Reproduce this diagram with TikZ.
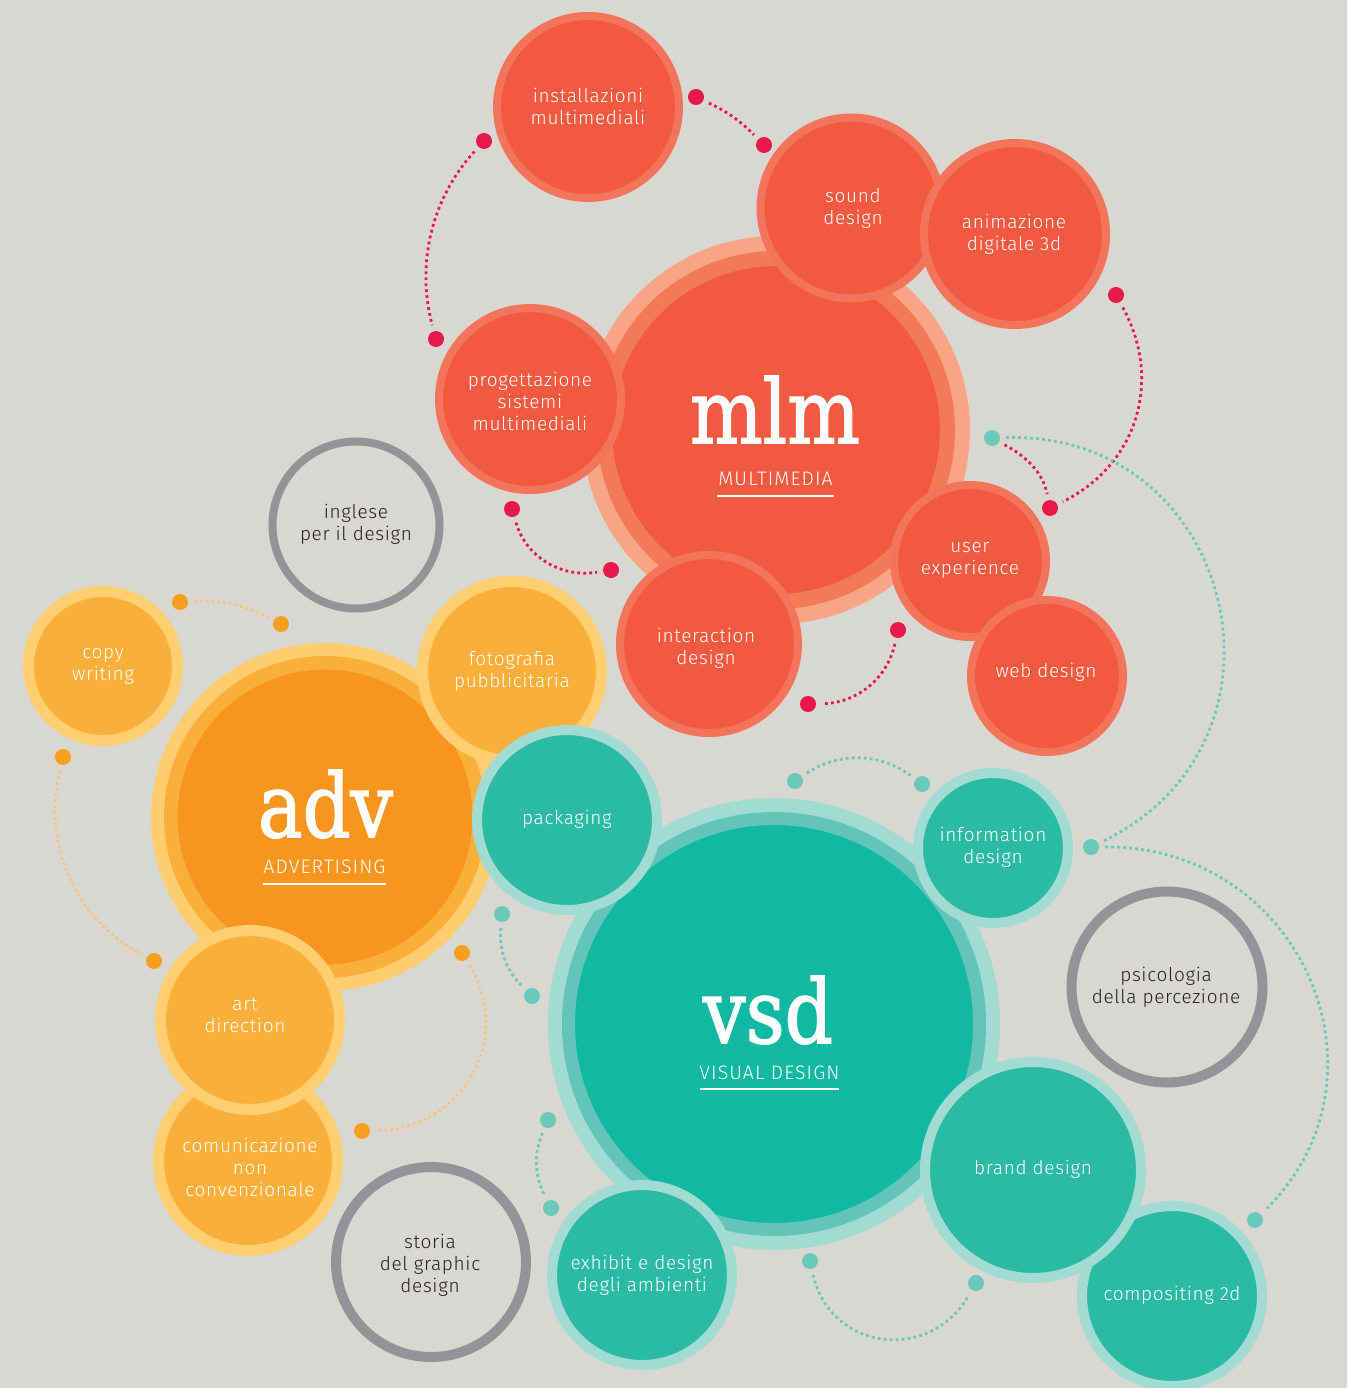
\documentclass[tikz,border=0pt]{standalone}
\usepackage{fontspec}
\setmainfont{Fira Sans Light}
\newfontfamily\lblfont{Fira Sans Light}[LetterSpace=3.5]
\newfontfamily\subfont{Fira Sans Light}[LetterSpace=5.5]
\newfontfamily\slab{DejaVu Serif}[FakeBold=1.8]
\definecolor{bg}{HTML}{D8D7D2}
\definecolor{mlmA}{HTML}{F8A586}
\definecolor{mlmB}{HTML}{F37A58}
\definecolor{redC}{HTML}{F15A40}
\definecolor{redR}{HTML}{F3745A}
\definecolor{redDot}{HTML}{E9184B}
\definecolor{advA}{HTML}{FECD6E}
\definecolor{advB}{HTML}{FAAF3A}
\definecolor{advC}{HTML}{F7951F}
\definecolor{orC}{HTML}{FAAF3A}
\definecolor{orR}{HTML}{FECF70}
\definecolor{orDot}{HTML}{F8A01E}
\definecolor{orLine}{HTML}{FBC27C}
\definecolor{vsdA}{HTML}{A2DAD4}
\definecolor{vsdB}{HTML}{62C5B7}
\definecolor{vsdC}{HTML}{12B9A2}
\definecolor{teC}{HTML}{2BBAA4}
\definecolor{teR}{HTML}{A2DAD4}
\definecolor{teDot}{HTML}{6BC9BB}
\definecolor{grayR}{HTML}{939498}
\definecolor{darktext}{HTML}{231F20}
\tikzset{
  bigmlm/.style={circle, inner sep=0pt, minimum size=343pt, fill=redC, draw=mlmB, line width=15pt, preaction={draw=mlmA, line width=45pt}},
  bigadv/.style={circle, inner sep=0pt, minimum size=308.5pt, fill=advC, draw=advB, line width=13.5pt, preaction={draw=advA, line width=39.5pt}},
  bigvsd/.style={circle, inner sep=0pt, minimum size=411pt, fill=vsdC, draw=vsdB, line width=13pt, preaction={draw=vsdA, line width=41pt}},
  smallred/.style={circle, inner sep=0pt, fill=redC, draw=redR, line width=8pt},
  smallorange/.style={circle, inner sep=0pt, fill=orC, draw=orR, line width=11pt},
  smallteal/.style={circle, inner sep=0pt, fill=teC, draw=teR, line width=10pt},
  grayring/.style={circle, inner sep=0pt, draw=grayR},
  lbl/.style={text=white, align=center, inner sep=0pt, font=\lblfont\fontsize{19}{22}\selectfont},
  dlbl/.style={lbl, text=darktext},
  bigtxt/.style={text=white, inner sep=0pt, anchor=base, font=\slab\fontsize{80}{80}\selectfont},
  subtxt/.style={text=white, inner sep=0pt, anchor=base, font=\subfont\fontsize{19.5}{22}\selectfont},
  uline/.style={white, line width=2pt},
  rdot/.style={circle, inner sep=0pt, minimum size=16pt, fill=redDot},
  tdot/.style={circle, inner sep=0pt, minimum size=16pt, fill=teDot},
  odot/.style={circle, inner sep=0pt, minimum size=16pt, fill=orDot},
  rline/.style={draw=redDot, line width=2.8pt, dash pattern=on 2.8pt off 3.2pt, shorten <=6pt, shorten >=6pt},
  tline/.style={draw=teDot, line width=2.8pt, dash pattern=on 2.8pt off 3.2pt, shorten <=6pt, shorten >=6pt},
  oline/.style={draw=orLine, line width=2.6pt, dash pattern=on 2.6pt off 3.2pt, shorten <=6pt, shorten >=6pt},
}
\begin{document}
\begin{tikzpicture}[x=1pt,y=-1pt]
\useasboundingbox (0,0) rectangle (1347,1388);
\fill[bg] (0,0) rectangle (1347,1388);

% ---------- dots ----------
\node[rdot] (r1) at (696,97) {};
\node[rdot] (r2) at (764,145) {};
\node[rdot] (r3) at (484,141) {};
\node[rdot] (r4) at (436,339) {};
\node[rdot] (r5) at (1116,295) {};
\node[rdot] (r6) at (1050,508) {};
\node[rdot] (r7) at (512,509) {};
\node[rdot] (r8) at (611,570) {};
\node[rdot] (r9) at (898,630) {};
\node[rdot] (r10) at (808,704) {};
\node[tdot] (t1) at (992,438) {};
\node[tdot] (t2) at (1091,847) {};
\node[tdot] (t3) at (1255,1220) {};
\node[tdot] (t4) at (795,781) {};
\node[tdot] (t5) at (922,784) {};
\node[tdot] (t6) at (502,914) {};
\node[tdot] (t7) at (532,996) {};
\node[tdot] (t8) at (548,1120) {};
\node[tdot] (t9) at (551,1208) {};
\node[tdot] (t10) at (810,1261) {};
\node[tdot] (t11) at (976,1283) {};
\node[odot] (o1) at (180,602) {};
\node[odot] (o2) at (281,624) {};
\node[odot] (o3) at (63,757) {};
\node[odot] (o4) at (154,961) {};
\node[odot] (o5) at (462,953) {};
\node[odot] (o6) at (362,1131) {};

% ---------- dotted connectors ----------
\draw[rline] (r1) to[bend left=10] (r2);
\draw[rline] (r3) .. controls (431,199) and (416,265) .. (r4);
\draw[rline] (r5) .. controls (1163,381) and (1137,465) .. (r6);
\draw[rline] (t1) .. controls (1029,458) and (1043,474) .. (r6);
\draw[rline] (r7) .. controls (526,557) and (561,578) .. (r8);
\draw[rline] (r9) .. controls (887,679) and (857,703) .. (r10);
\draw[tline] (t1) .. controls (1234,431) and (1310,740) .. (t2);
\draw[tline] (t2) .. controls (1301,846) and (1401,1077) .. (t3);
\draw[tline] (t4) to[bend left=35] (t5);
\draw[tline] (t6) to[bend right=25] (t7);
\draw[tline] (t8) to[bend right=25] (t9);
\draw[tline] (t10) .. controls (830,1350) and (929,1364) .. (t11);
\draw[oline] (o1) to[bend left=15] (o2);
\draw[oline] (o3) .. controls (42,846) and (76,919) .. (o4);
\draw[oline] (o5) .. controls (514,1039) and (463,1129) .. (o6);

% ---------- big circles ----------
\node[bigmlm] (mlm) at (776,430) {};
\node[bigadv] (adv) at (325,817) {};
\node[bigvsd] (vsd) at (774,1024) {};

% ---------- red small circles ----------
\node[smallred, minimum size=182pt] (inst) at (588,107) {};
\node[smallred, minimum size=182pt] (prog) at (530,399) {};
\node[smallred, minimum size=181pt] (sound) at (851,208) {};
\node[smallred, minimum size=182pt] (anim) at (1015,234) {};
\node[smallred, minimum size=178pt] (inter) at (709,644) {};
\node[smallred, minimum size=152pt] (ux) at (970,561) {};
\node[smallred, minimum size=152pt] (web) at (1047,676) {};

% ---------- orange small circles ----------
\node[smallorange, minimum size=149pt] (copy) at (103,666) {};
\node[smallorange, minimum size=179pt] (foto) at (512,671) {};
\node[smallorange, minimum size=179pt] (comu) at (248,1161) {};
\node[smallorange, minimum size=179pt] (art) at (250,1020) {};

% ---------- teal small circles ----------
\node[smallteal, minimum size=180pt] (pack) at (567,820) {};
\node[smallteal, minimum size=150pt] (info) at (993,848) {};
\node[smallteal, minimum size=180pt] (exhib) at (642,1275) {};
\node[smallteal, minimum size=180pt] (comp) at (1172,1296) {};
\node[smallteal, minimum size=216pt] (brand) at (1033,1170) {};

% ---------- gray rings ----------
\node[grayring, line width=8pt, minimum size=167pt] (ingl) at (356,525) {};
\node[grayring, line width=10pt, minimum size=191pt] (psico) at (1167,987) {};
\node[grayring, line width=10pt, minimum size=190pt] (storia) at (431,1262) {};

% ---------- big labels ----------
\node[bigtxt] (mlm-t) at (775,443) {\resizebox{170pt}{67pt}{mlm}};
\node[subtxt] (mlm-s) at (775.5,485) {MULTIMEDIA};
\draw[uline] (717,496) -- (834,496);
\node[bigtxt] (adv-t) at (325.5,837) {\resizebox{135pt}{67pt}{adv}};
\node[subtxt] (adv-s) at (324.5,873) {ADVERTISING};
\draw[uline] (263,884) -- (386,884);
\node[bigtxt] (vsd-t) at (768,1043) {\resizebox{130pt}{67pt}{vsd}};
\node[subtxt] (vsd-s) at (769.5,1079) {VISUAL DESIGN};
\draw[uline] (700,1089) -- (839,1089);

% ---------- small labels ----------
\node[lbl] (inst-t) at (588,106) {installazioni\\multimediali};
\node[lbl] (prog-t) at (530,401) {progettazione\\sistemi\\multimediali};
\node[lbl] (sound-t) at (853,208) {sound\\design};
\node[lbl] (anim-t) at (1014,234) {animazione\\digitale 3d};
\node[lbl] (inter-t) at (706,648) {interaction\\design};
\node[lbl] (ux-t) at (970,560) {user\\experience};
\node[lbl] (web-t) at (1046,672) {web design};
\node[lbl] (copy-t) at (103,666) {copy\\writing};
\node[lbl] (foto-t) at (512,671) {fotografia\\pubblicitaria};
\node[lbl] (art-t) at (245,1015) {art\\direction};
\node[lbl] (comu-t) at (250,1167) {comunicazione\\non\\convenzionale};
\node[lbl] (pack-t) at (567,819) {packaging};
\node[lbl] (info-t) at (993,847) {information\\design};
\node[lbl] (brand-t) at (1033,1169) {brand design};
\node[lbl] (comp-t) at (1172,1295) {compositing 2d};
\node[lbl] (exhib-t) at (642,1275) {exhibit e design\\degli ambienti};
\node[dlbl] (ingl-t) at (356,524) {inglese\\per il design};
\node[dlbl] (psico-t) at (1166,987) {psicologia\\della percezione};
\node[dlbl] (storia-t) at (430,1265) {storia\\del graphic\\design};
\end{tikzpicture}
\end{document}
